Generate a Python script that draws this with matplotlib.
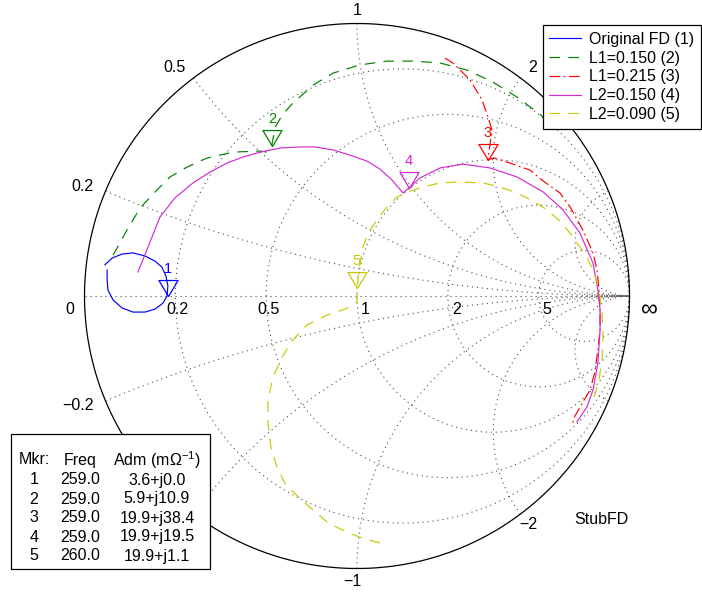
import numpy as np
import matplotlib
matplotlib.use('Agg')
import matplotlib.pyplot as plt
from matplotlib.path import Path
from matplotlib.patches import Rectangle

plt.rcParams['font.family'] = ['Liberation Sans', 'DejaVu Sans']
plt.rcParams['mathtext.fontset'] = 'custom'
plt.rcParams['mathtext.rm'] = 'Liberation Sans'
plt.rcParams['mathtext.it'] = 'Liberation Sans:italic'
plt.rcParams['mathtext.bf'] = 'Liberation Sans:bold'

# ------------------------------------------------------------------ data
Y0_mS = 20.0                       # reference admittance (50 ohm)
r_grid = [0.2, 0.5, 1, 2, 5]       # constant-resistance circles
x_grid = [0.2, 0.5, 1, 2, 5]       # constant-reactance arcs (+/-)
real_tick_values = [0.2, 0.5, 1, 2, 5]
real_tick_labels = ['0.2', '0.5', '1', '2', '5']
reac_tick_values = [0.2, 0.5, 1, 2, -0.2, -1, -2]
reac_tick_labels = ['0.2', '0.5', '1', '2', '\u22120.2', '\u22121', '\u22122']

series_names = ['Original FD (1)', 'L1=0.150 (2)', 'L1=0.215 (3)',
                'L2=0.150 (4)', 'L2=0.090 (5)']

orig_re = [-0.925, -0.899, -0.862, -0.822, -0.778, -0.741, -0.716, -0.701, -0.694,
           -0.697, -0.712, -0.741, -0.778, -0.822, -0.862, -0.895, -0.914, -0.917, -0.917]
orig_im = [0.114, 0.139, 0.154, 0.158, 0.147, 0.128, 0.106, 0.073, 0.037,
           0.000, -0.026, -0.048, -0.059, -0.059, -0.044, -0.015, 0.022, 0.059, 0.095]

l1a_re = [-0.895, -0.844, -0.796, -0.734, -0.686, -0.624, -0.551, -0.455, -0.356, -0.330,
          -0.313, -0.300, -0.272, -0.235, -0.161, -0.088, 0.011, 0.110, 0.206, 0.305,
          0.404, 0.499, 0.587, 0.661, 0.697]
l1a_im = [0.150, 0.242, 0.323, 0.389, 0.437, 0.473, 0.506, 0.528, 0.532, 0.528,
          0.552, 0.620, 0.668, 0.708, 0.774, 0.818, 0.848, 0.862, 0.862, 0.855,
          0.829, 0.785, 0.730, 0.675, 0.646]

l1b_re = [0.323, 0.352, 0.415, 0.459, 0.481, 0.495, 0.488, 0.480, 0.506, 0.561,
          0.635, 0.683, 0.745, 0.782, 0.829, 0.866, 0.881, 0.888, 0.892, 0.892,
          0.884, 0.873, 0.855, 0.829, 0.800, 0.789]
l1b_im = [0.873, 0.855, 0.793, 0.719, 0.657, 0.609, 0.554, 0.501, 0.506, 0.488,
          0.462, 0.422, 0.378, 0.327, 0.242, 0.158, 0.095, 0.022, -0.051, -0.125,
          -0.198, -0.279, -0.345, -0.389, -0.440, -0.473]

l2a_re = [-0.804, -0.771, -0.723, -0.668, -0.602, -0.539, -0.477, -0.418, -0.356, -0.283,
          -0.209, -0.154, -0.088, -0.026, 0.037, 0.084, 0.128, 0.169, 0.195, 0.231,
          0.305, 0.389, 0.488, 0.587, 0.683, 0.756, 0.818, 0.866, 0.884, 0.892,
          0.892, 0.884, 0.866, 0.844, 0.807]
l2a_im = [0.088, 0.169, 0.290, 0.360, 0.415, 0.455, 0.488, 0.510, 0.528, 0.543,
          0.547, 0.547, 0.536, 0.517, 0.495, 0.466, 0.426, 0.378, 0.400, 0.433,
          0.470, 0.484, 0.470, 0.437, 0.382, 0.316, 0.231, 0.121, 0.022, -0.051,
          -0.125, -0.246, -0.345, -0.407, -0.462]

l2b_re = [0.084, 0.029, -0.011, -0.062, -0.110, -0.195, -0.261, -0.294, -0.316, -0.327,
          -0.327, -0.308, -0.275, -0.235, -0.183, -0.110, -0.044, 0.000, 0.000, 0.007,
          0.022, 0.044, 0.073, 0.110, 0.147, 0.195, 0.242, 0.305, 0.367, 0.462,
          0.525, 0.587, 0.646, 0.697, 0.745, 0.782, 0.818, 0.844, 0.866, 0.881,
          0.892, 0.899, 0.903, 0.899, 0.888, 0.870, 0.862]
l2b_im = [-0.906, -0.892, -0.877, -0.855, -0.829, -0.756, -0.694, -0.628, -0.554, -0.466,
          -0.382, -0.297, -0.224, -0.161, -0.106, -0.070, -0.048, -0.022, 0.029, 0.095,
          0.180, 0.235, 0.279, 0.327, 0.363, 0.385, 0.400, 0.415, 0.418, 0.415,
          0.400, 0.378, 0.349, 0.316, 0.275, 0.231, 0.180, 0.143, 0.095, 0.048,
          -0.007, -0.062, -0.143, -0.235, -0.308, -0.371, -0.389]

marker_ids = [1, 2, 3, 4, 5]
marker_freq = [259.0, 259.0, 259.0, 259.0, 260.0]
marker_adm_re = [3.6, 5.9, 19.9, 19.9, 19.9]    # mS
marker_adm_im = [0.0, 10.9, 38.4, 19.5, 1.1]    # mS

chart_name = 'StubFD'

# ------------------------------------------------------------------ style
colors = ['#0000ff', '#008000', '#ff0000', '#d42ad4', '#c8c800']
styles = ['-', (0, (9, 7)), (0, (9, 3, 1.5, 3)), '-', (0, (9, 7))]
traces = [(orig_re, orig_im), (l1a_re, l1a_im), (l1b_re, l1b_im),
          (l2a_re, l2a_im), (l2b_re, l2b_im)]

W, H, DPI = 702, 595, 100
CX, CY, RAD = 357.0, 296.0, 272.5      # chart centre / radius in pixels
PX2PT = 72.0 / DPI

fig = plt.figure(figsize=(W / DPI, H / DPI), dpi=DPI)
ax = fig.add_axes([0, 0, 1, 1])
ax.set_xlim(-CX / RAD, (W - CX) / RAD)
ax.set_ylim(-(H - CY) / RAD, CY / RAD)
ax.axis('off')

grid_kw = dict(color='0.3', lw=0.8, ls=(0, (1, 3.5)), zorder=1)

# resistance circles
t = np.linspace(-np.pi / 2 * 0.9995, np.pi / 2 * 0.9995, 1500)
for r in r_grid:
    z = r + 1j * np.tan(t)
    g = (z - 1) / (z + 1)
    ax.plot(g.real, g.imag, **grid_kw)
# reactance arcs
s = np.linspace(0, np.pi / 2 * 0.9995, 1500)
for xv in x_grid:
    for sgn in (1, -1):
        z = np.tan(s) + 1j * sgn * xv
        g = (z - 1) / (z + 1)
        ax.plot(g.real, g.imag, **grid_kw)
ax.plot([-1, 1], [0, 0], **grid_kw)

# outer circle
th = np.linspace(0, 2 * np.pi, 721)
ax.plot(np.cos(th), np.sin(th), color='black', lw=0.9, zorder=2)

# real-axis labels
fs = 11.5
for v, lab in zip(real_tick_values, real_tick_labels):
    g = (v - 1) / (v + 1)
    ax.annotate(lab, (g, 0), xytext=(13 * PX2PT, -14 * PX2PT), textcoords='offset points',
                ha='right', va='center', fontsize=fs)
ax.annotate('0', (-1, 0), xytext=(-10 * PX2PT, -14 * PX2PT), textcoords='offset points',
            ha='right', va='center', fontsize=fs)
ax.annotate('\u221e', (1, 0), xytext=(12 * PX2PT, -14 * PX2PT), textcoords='offset points',
            ha='left', va='center', fontsize=17)

# reactance labels on the rim (numeric part aligned, minus sign hangs to the left)
fig.canvas.draw()
renderer = fig.canvas.get_renderer()
for v, lab in zip(reac_tick_values, reac_tick_labels):
    g = (1j * v - 1) / (1j * v + 1)
    off = (13 * PX2PT * g.real, 13 * PX2PT * g.imag)
    ha = 'right' if g.real < -0.1 else ('left' if g.real > 0.1 else 'center')
    txt = ax.annotate(lab.lstrip('\u2212'), (g.real, g.imag), xytext=off,
                      textcoords='offset points', ha=ha, va='center', fontsize=fs,
                      zorder=1)
    if v < 0:
        bb = txt.get_window_extent(renderer)
        ax_pt = ax.transData.transform((g.real, g.imag))
        txt.set_text(lab)
        txt.set_ha('right')
        txt.set_position(((bb.x1 - ax_pt[0]) * PX2PT, off[1]))

# traces
handles = []
for (re_, im_), c, ls, name in zip(traces, colors, styles, series_names):
    h, = ax.plot(re_, im_, color=c, ls=ls, lw=0.85, label=name, zorder=3)
    handles.append(h)

# markers
yn = (np.array(marker_adm_re) + 1j * np.array(marker_adm_im)) / Y0_mS
gm = (yn - 1) / (yn + 1)
tri = Path([(-0.6, 1), (0.6, 1), (0, 0), (-0.6, 1)],
           [Path.MOVETO, Path.LINETO, Path.LINETO, Path.CLOSEPOLY])
for k, mid in enumerate(marker_ids):
    ax.plot(gm.real[k], gm.imag[k], marker=tri, markersize=23, mfc='none',
            mec=colors[k], mew=0.9, ls='none', zorder=4)
    ax.annotate(str(mid), (gm.real[k], gm.imag[k]), xytext=(0, 27 * PX2PT),
                textcoords='offset points', ha='center', va='center',
                color=colors[k], fontsize=10.5, zorder=4)

# legend
leg = ax.legend(handles=handles, loc='upper right',
                bbox_to_anchor=(701 / W, 1 - 25 / H), bbox_transform=fig.transFigure,
                fontsize=fs, frameon=True, fancybox=False, framealpha=1,
                edgecolor='black', borderaxespad=0, borderpad=0.42,
                labelspacing=0.24, handlelength=2.0, handletextpad=0.5)
leg.get_frame().set_linewidth(0.9)
leg.set_zorder(10)

# marker table
rect = Rectangle((11 / W, 1 - 569 / H), 199 / W, 135 / H, transform=fig.transFigure,
                 facecolor='white', edgecolor='black', lw=0.9, zorder=8)
ax.add_patch(rect)
col_x = [34 / W, 80 / W, 157 / W]
hy = 1 - 460 / H
ax.text(col_x[0], hy, 'Mkr:', transform=fig.transFigure, ha='center', va='center', fontsize=fs, zorder=9)
ax.text(col_x[1], hy, 'Freq', transform=fig.transFigure, ha='center', va='center', fontsize=fs, zorder=9)
ax.text(col_x[2], hy, 'Adm (m\u03a9$^{-1}$)', transform=fig.transFigure, ha='center', va='center',
        fontsize=fs, zorder=9)
for k, mid in enumerate(marker_ids):
    yy = 1 - (480 + 19 * k) / H
    ax.text(col_x[0], yy, str(mid), transform=fig.transFigure, ha='center', va='center', fontsize=fs, zorder=9)
    ax.text(col_x[1], yy, f'{marker_freq[k]:.1f}', transform=fig.transFigure, ha='center', va='center',
            fontsize=fs, zorder=9)
    ax.text(col_x[2], yy, f'{marker_adm_re[k]:.1f}+j{marker_adm_im[k]:.1f}', transform=fig.transFigure,
            ha='center', va='center', fontsize=fs, zorder=9)

ax.text(601 / W, 1 - 520 / H, chart_name, transform=fig.transFigure, ha='center', va='center', fontsize=fs)

fig.savefig('out.png', dpi=DPI)
